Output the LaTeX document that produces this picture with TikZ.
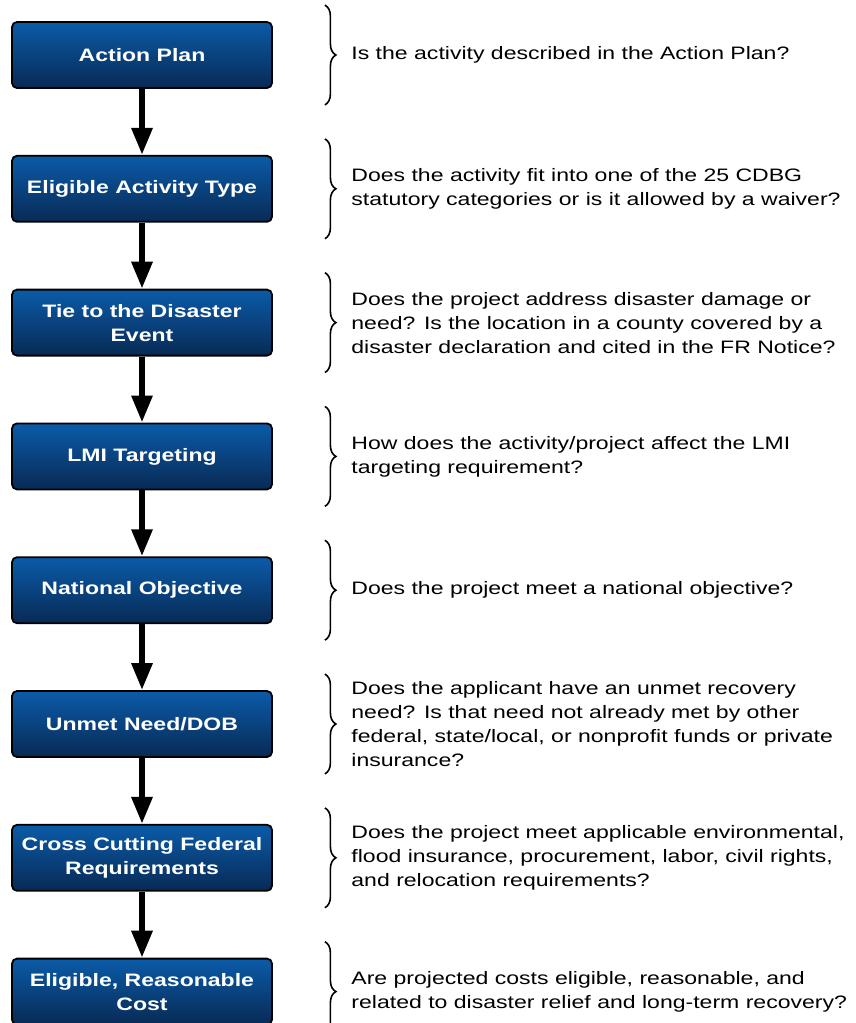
\documentclass[tikz,border=0pt]{standalone}
\usepackage{fontspec}
\setmainfont{Liberation Sans}[FakeStretch=1.28]
\usetikzlibrary{positioning,arrows.meta,decorations.pathreplacing}

\definecolor{boxtop}{HTML}{0B5BA8}
\definecolor{boxbot}{HTML}{082A55}

\begin{document}
\begin{tikzpicture}[
  x=1pt, y=-1pt,
  node distance=66pt,
  >={Triangle[width=20pt,length=27pt]},
  every node/.style={font=\fontsize{18}{24}\selectfont},
  stepbox/.style={draw=black, line width=1.8pt, rounded corners=5pt,
    top color=boxtop, bottom color=boxbot, minimum width=260pt,
    minimum height=66pt, text=white, align=center, font=\fontsize{18}{24}\selectfont\bfseries},
  question/.style={right=75pt of #1, anchor=west, align=left},
  arrow/.style={->, line width=6pt},
  curly/.style={decorate, decoration={brace, amplitude=11pt}, line width=1.6pt}
]
\useasboundingbox (0,0) rectangle (856,1023);

% Pasos
\node[stepbox] (plan) at (142,55) {Action Plan};
\node[stepbox, below=of plan] (type) {Eligible Activity Type};
\node[stepbox, below=of type] (tie) {Tie to the Disaster\\Event};
\node[stepbox, below=of tie] (lmi) {LMI Targeting};
\node[stepbox, below=of lmi] (natobj) {National Objective};
\node[stepbox, below=of natobj] (unmet) {Unmet Need/DOB};
\node[stepbox, below=of unmet] (cross) {Cross Cutting Federal\\Requirements};
\node[stepbox, below=of cross] (cost) {Eligible, Reasonable\\Cost};

% Preguntas
\node[question=plan] (q-plan) {Is the activity described in the Action Plan?};
\node[question=type] (q-type) {Does the activity fit into one of the 25 CDBG\\statutory categories or is it allowed by a waiver?};
\node[question=tie] (q-tie) {Does the project address disaster damage or\\need? Is the location in a county covered by a\\disaster declaration and cited in the FR Notice?};
\node[question=lmi] (q-lmi) {How does the activity/project affect the LMI\\targeting requirement?};
\node[question=natobj] (q-natobj) {Does the project meet a national objective?};
\node[question=unmet] (q-unmet) {Does the applicant have an unmet recovery\\need? Is that need not already met by other\\federal, state/local, or nonprofit funds or private\\insurance?};
\node[question=cross] (q-cross) {Does the project meet applicable environmental,\\flood insurance, procurement, labor, civil rights,\\and relocation requirements?};
\node[question=cost] (q-cost) {Are projected costs eligible, reasonable, and\\related to disaster relief and long-term recovery?};

% Llaves
\draw[curly] ([xshift=52pt,yshift=16pt] plan.north east) -- ([xshift=52pt,yshift=-16pt] plan.south east);
\draw[curly] ([xshift=52pt,yshift=16pt] type.north east) -- ([xshift=52pt,yshift=-16pt] type.south east);
\draw[curly] ([xshift=52pt,yshift=16pt] tie.north east) -- ([xshift=52pt,yshift=-16pt] tie.south east);
\draw[curly] ([xshift=52pt,yshift=16pt] lmi.north east) -- ([xshift=52pt,yshift=-16pt] lmi.south east);
\draw[curly] ([xshift=52pt,yshift=16pt] natobj.north east) -- ([xshift=52pt,yshift=-16pt] natobj.south east);
\draw[curly] ([xshift=52pt,yshift=16pt] unmet.north east) -- ([xshift=52pt,yshift=-16pt] unmet.south east);
\draw[curly] ([xshift=52pt,yshift=16pt] cross.north east) -- ([xshift=52pt,yshift=-16pt] cross.south east);
\draw[curly] ([xshift=52pt,yshift=16pt] cost.north east) -- ([xshift=52pt,yshift=-16pt] cost.south east);

% Flechas
\draw[arrow] (plan) -- (type);
\draw[arrow] (type) -- (tie);
\draw[arrow] (tie) -- (lmi);
\draw[arrow] (lmi) -- (natobj);
\draw[arrow] (natobj) -- (unmet);
\draw[arrow] (unmet) -- (cross);
\draw[arrow] (cross) -- (cost);

\end{tikzpicture}
\end{document}
